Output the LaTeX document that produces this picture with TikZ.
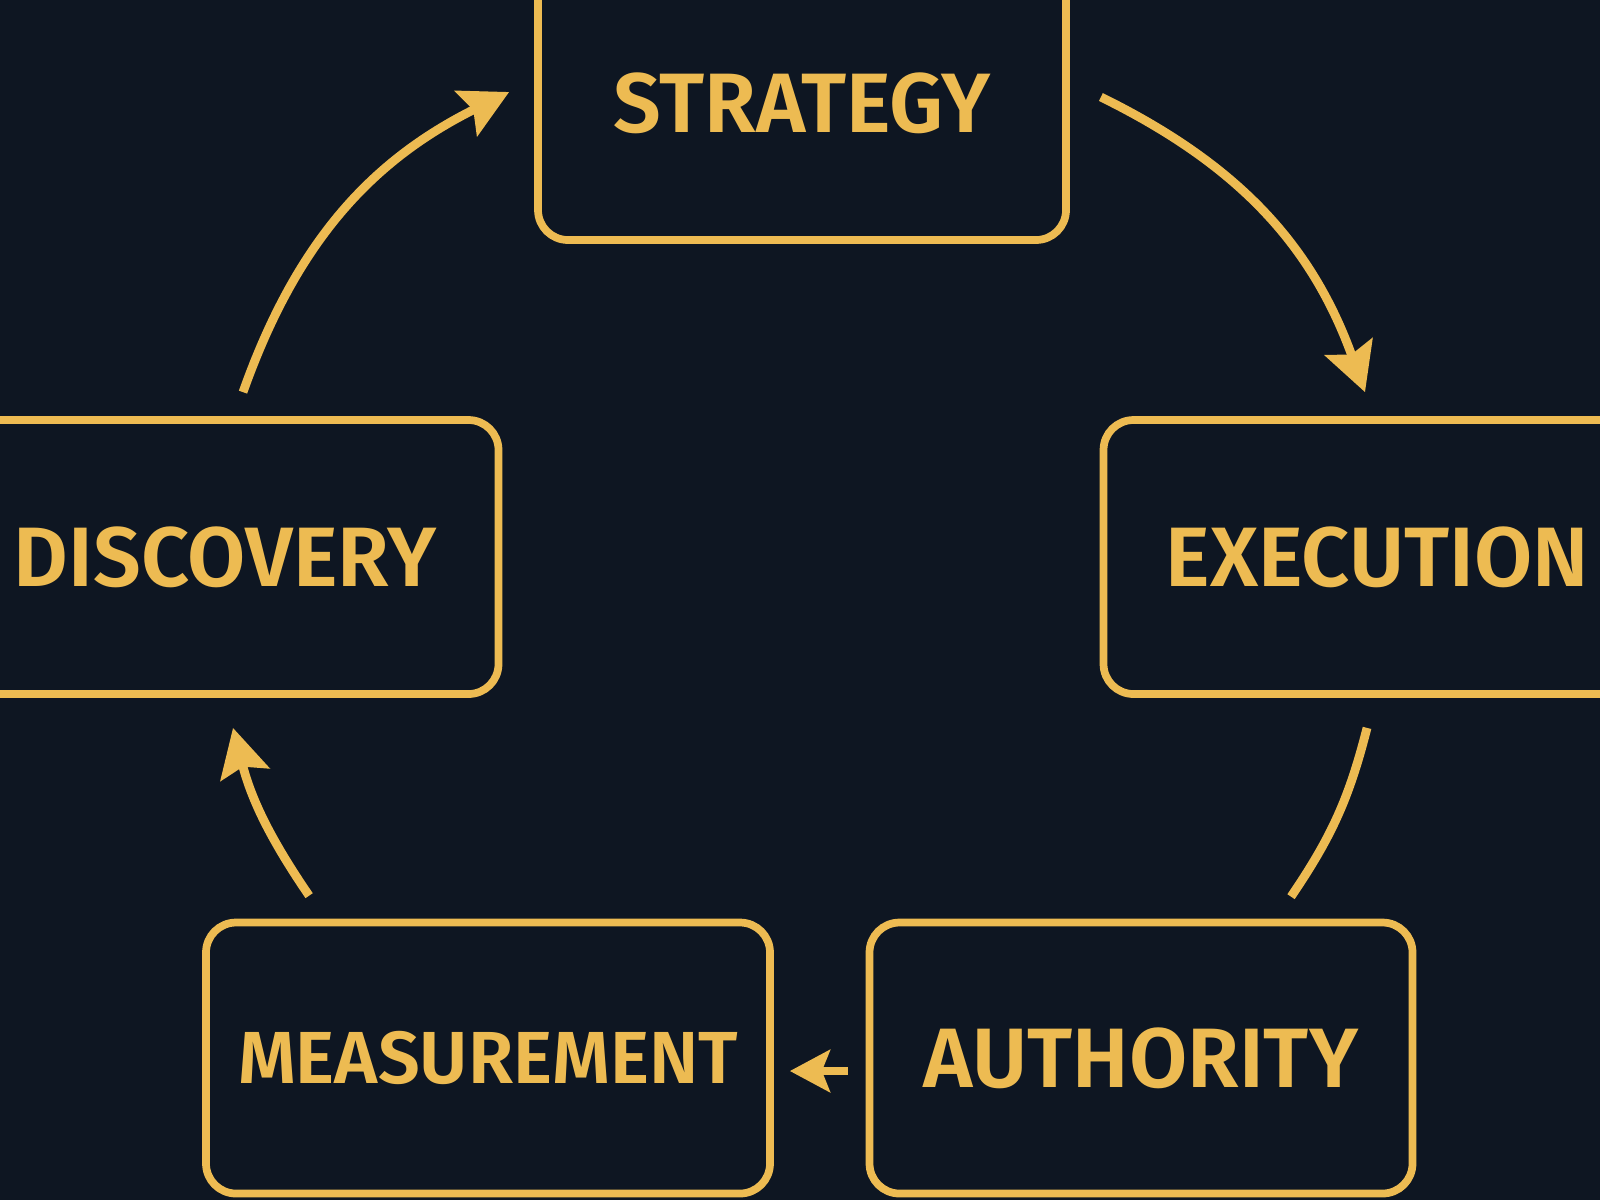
\documentclass[tikz,border=0pt]{standalone}
\usepackage{fontspec}
\setmainfont{Fira Sans}[BoldFont={Fira Sans SemiBold}]
\usetikzlibrary{arrows.meta,positioning,calc}
\definecolor{navy}{HTML}{0E1622}
\definecolor{gold}{HTML}{EDBB52}

\begin{document}
\begin{tikzpicture}[
  stage/.style={draw=gold, line width=2.2pt, rounded corners=0.3cm, text=gold,
    font=\bfseries\fontsize{24}{24}\selectfont, minimum height=2.74cm},
  link/.style={draw=gold, line width=2.5pt},
  flow/.style={link, -{Stealth[length=0.48cm,width=0.5cm,inset=0.08cm]}}
]
\fill[navy] (0,0) rectangle (16,-12);
\useasboundingbox (0,0) rectangle (16,-12);
\clip (0,0) rectangle (16,-12);

\node[stage, minimum width=5.28cm] (strategy) at (8.02,-1.03) {STRATEGY};
\node[stage, minimum width=5.47cm] (discovery) at (2.25,-5.57) {DISCOVERY};
\node[stage, minimum width=5.47cm] (execution) at (13.77,-5.57) {EXECUTION};
\node[stage, minimum width=5.64cm, minimum height=2.71cm,
  font=\bfseries\fontsize{21}{21}\selectfont] (measurement) at (4.88,-10.58) {MEASUREMENT};
\node[stage, minimum width=5.43cm, minimum height=2.71cm] (authority) at (11.41,-10.58) {AUTHORITY};

\draw[flow] ([shift={(0.18,0.24)}]discovery.north) to[bend left=22] ([shift={(-0.25,0.11)}]strategy.west);
\draw[flow] ([shift={(0.31,0.06)}]strategy.east) to[bend left=22] ([shift={(-0.12,0.24)}]execution.north);
\draw[link] ([shift={(-0.10,-0.30)}]execution.south) to[bend left=10] ([shift={(1.50,0.22)}]authority.north);
\draw[flow, -{Stealth[length=0.4cm,width=0.42cm,inset=0.08cm]}] ([shift={(-0.18,-0.13)}]authority.west) -- ([shift={(0.16,-0.13)}]measurement.east);
\draw[flow] ([shift={(1.07,0.23)}]measurement.north west) to[bend left=10] ([shift={(0.08,-0.30)}]discovery.south);
\end{tikzpicture}
\end{document}
